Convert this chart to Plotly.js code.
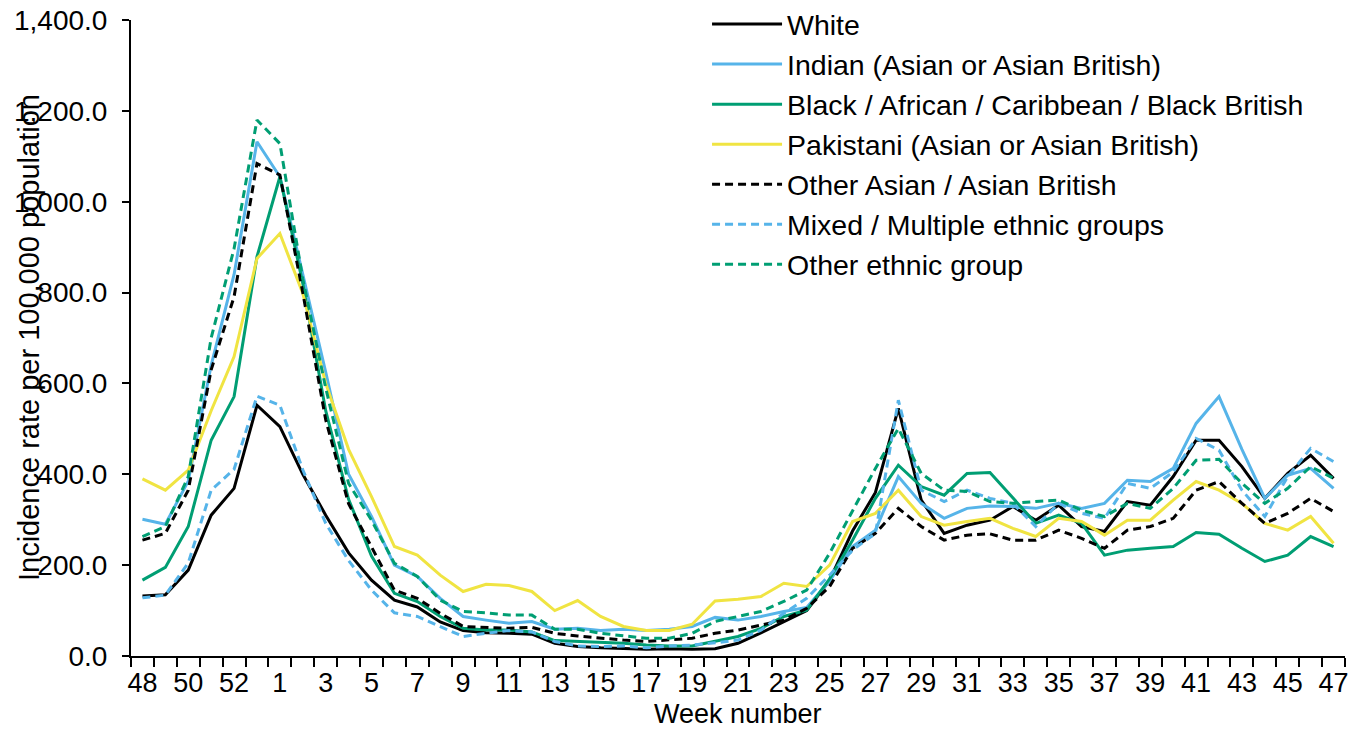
<!DOCTYPE html>
<html><head><meta charset="utf-8">
<script src="https://cdn.plot.ly/plotly-3.0.1.min.js"></script>
<style>html,body{margin:0;padding:0;background:#fff}#chart{width:1363px;height:730px}</style>
</head><body><div id="chart"></div>
<script>
const weeks = ["48","49","50","51","52","53","1","2","3","4","5","6","7","8","9","10","11","12","13","14","15","16","17","18","19","20","21","22","23","24","25","26","27","28","29","30","31","32","33","34","35","36","37","38","39","40","41","42","43","44","45","46","47"];

const white = [132,135,189,310,369,552,505,400,310,227,167,123,108,75,56,51,50,48,28,21,18,17,15,16,15,16,28,51,75,100,167,275,360,545,343,270,288,299,329,299,332,285,274,340,332,395,475,475,417,347,402,442,391];
const indian = [301,290,385,640,840,1132,1055,840,625,400,307,200,175,127,87,79,72,76,59,61,56,59,56,59,65,85,79,87,98,107,165,241,277,395,336,303,325,330,329,325,336,325,336,387,384,413,512,571,455,347,398,413,369];
const black = [167,195,285,475,571,879,1055,820,540,345,220,138,120,87,61,57,57,53,34,32,29,28,24,22,22,32,43,61,87,101,170,255,347,420,373,354,402,404,347,292,310,292,222,233,237,241,272,268,237,208,222,263,241];
const pakistani = [390,365,409,540,659,875,930,798,600,455,351,241,222,178,142,158,155,142,100,122,87,65,56,56,70,121,125,131,160,153,200,296,314,365,307,288,296,303,281,263,303,296,266,299,299,343,384,365,336,292,277,307,248];
const otherAsian = [255,270,365,630,791,1084,1059,800,520,335,240,145,127,94,65,63,61,63,50,44,39,35,32,35,39,50,57,68,79,105,153,237,270,325,285,255,266,269,255,255,277,259,237,277,285,303,365,384,336,292,314,347,318];
const mixed = [128,134,205,365,411,572,552,410,292,210,145,95,87,65,43,50,56,53,32,22,21,22,18,22,24,29,35,57,94,127,178,233,270,563,365,340,365,347,336,285,336,314,303,380,369,405,479,453,365,307,395,457,428];
const otherEthnic = [263,285,395,700,897,1180,1128,830,590,380,299,204,175,123,98,95,90,90,59,59,50,44,39,39,50,76,87,98,120,145,226,320,413,501,402,365,362,340,336,340,343,321,307,336,325,369,431,433,380,336,369,417,391];

const seriesNames = ["White","Indian (Asian or Asian British)","Black / African / Caribbean / Black British","Pakistani (Asian or Asian British)","Other Asian / Asian British","Mixed / Multiple ethnic groups","Other ethnic group"];
const seriesValues = [white, indian, black, pakistani, otherAsian, mixed, otherEthnic];
const seriesColors = ["#000000","#56B4E9","#009E73","#F0E442","#000000","#56B4E9","#009E73"];
const seriesDash = ["solid","solid","solid","solid","8px,5px","8px,5px","8px,5px"];

const xIdx = weeks.map((w,i)=>i);
const tickIdx = xIdx.filter(i=>i%2===0);
const tickText = tickIdx.map(i=>weeks[i]);

const FONT = "Liberation Sans, Arial, sans-serif";

const traces = seriesNames.map((name,k)=>({
  type:'scatter', mode:'lines', name:name, x:xIdx, y:seriesValues[k],
  legendgroup:'g'+k,
  line:{color:seriesColors[k], width:3, dash:seriesDash[k]},
  hoverinfo:'x+y+name'
}));

const layout = {
  width:1363, height:730,
  margin:{l:131, r:18, t:20, b:74, autoexpand:false},
  paper_bgcolor:'#fff', plot_bgcolor:'#fff',
  font:{family:FONT, color:'#000', size:28},
  showlegend:true,
  legend:{x:0.4745, y:1.033, xanchor:'left', yanchor:'top', bgcolor:'rgba(0,0,0,0)',
          font:{family:FONT, size:28.5, color:'#000'}, itemwidth:70, tracegroupgap:0, traceorder:'normal'},
  xaxis:{
    range:[-0.5,52.5], showgrid:false, zeroline:false,
    showline:true, linecolor:'#000', linewidth:2,
    tickmode:'array', tickvals:tickIdx, ticktext:tickText,
    ticks:'outside', ticklen:2, tickcolor:'rgba(0,0,0,0)', ticklabelstandoff:0,
    tickfont:{family:FONT, size:27, color:'#000'},
    minor:{tick0:-0.5, dtick:1, ticks:'outside', ticklen:9, tickwidth:2, tickcolor:'#000', showgrid:false}
  },
  yaxis:{
    range:[0,1400], dtick:200, tickformat:',.1f', showgrid:false, zeroline:false,
    showline:true, linecolor:'#000', linewidth:2,
    ticks:'outside', ticklen:7, tickwidth:2, tickcolor:'#000', ticklabelstandoff:9,
    tickfont:{family:FONT, size:28, color:'#000'}
  },
  annotations:[{
    text:'Incidence rate per 100,000 population', textangle:-90,
    xref:'paper', yref:'paper', x:-0.084, y:0.5, xanchor:'center', yanchor:'middle',
    showarrow:false, font:{family:FONT, size:29, color:'#000'}
  },{
    text:'Week number',
    xref:'paper', yref:'paper', x:0.5, y:-0.1162, xanchor:'center', yanchor:'bottom', borderpad:0,
    showarrow:false, font:{family:FONT, size:27, color:'#000'}
  }]
};

Plotly.newPlot('chart', traces, layout, {displayModeBar:false, staticPlot:true});
</script>
</body></html>
